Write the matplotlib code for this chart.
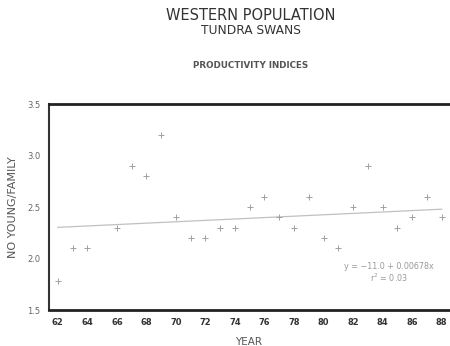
import matplotlib
matplotlib.use("Agg")
import matplotlib.pyplot as plt
import numpy as np

plt.rcParams['font.family'] = ['DejaVu Sans']

years = [62, 63, 64, 66, 67, 68, 69, 70, 71, 72, 73, 74, 75, 76, 77, 78, 79, 80, 81, 82, 83, 84, 85, 86, 87, 88]
young = [1.78, 2.1, 2.1, 2.3, 2.9, 2.8, 3.2, 2.4, 2.2, 2.2, 2.3, 2.3, 2.5, 2.6, 2.4, 2.3, 2.6, 2.2, 2.1, 2.5, 2.9, 2.5, 2.3, 2.4, 2.6, 2.4]
intercept = -11.0
slope = 0.00678
xticks = [62, 64, 66, 68, 70, 72, 74, 76, 78, 80, 82, 84, 86, 88]
yticks = [1.5, 2.0, 2.5, 3.0, 3.5]
ytick_labels = ["1.5", "2.0", "2.5", "3.0", "3.5"]

fig = plt.figure(figsize=(4.5, 3.46), dpi=100)
ax = fig.add_axes([49/450, 1-310/346, 400/450, 206/346])

ax.scatter(years, young, marker='+', s=20, color='#a0a0a0', linewidths=0.7, zorder=3)
lx = np.array([years[0], years[-1]])
ax.plot(lx, intercept + slope*(1900+lx), color='#c0c0c0', lw=0.9)

ax.set_xlim(61.4, 88.5)
ax.set_ylim(1.5, 3.5)
ax.set_xticks(xticks)
ax.set_xticklabels([str(t) for t in xticks])
ax.set_yticks(yticks)
ax.set_yticklabels(ytick_labels)
ax.tick_params(axis='both', length=0, labelsize=6, colors='#333333', pad=6)
for lab in ax.get_xticklabels():
    lab.set_fontweight('bold')
for lab in ax.get_yticklabels():
    lab.set_color('#666666')
for name in ['top', 'bottom']:
    ax.spines[name].set_linewidth(2.0)
    ax.spines[name].set_color('#222222')
ax.spines['left'].set_linewidth(1.5)
ax.spines['left'].set_color('#333333')
ax.spines['right'].set_visible(False)

ax.set_xlabel('YEAR', fontsize=7.5, color='#555555', labelpad=7)
ax.set_ylabel('NO YOUNG/FAMILY', fontsize=8, color='#555555', labelpad=7)

ax.text(0.85, 0.2, 'y = \u221211.0 + 0.00678x', transform=ax.transAxes, fontsize=5.8, color='#999999', ha='center')
ax.text(0.85, 0.135, 'r$^2$ = 0.03', transform=ax.transAxes, fontsize=5.8, color='#999999', ha='center')

cx = 251/450
fig.text(cx, 1-16/346, 'WESTERN POPULATION', ha='center', va='center', fontsize=10.5, color='#333333')
fig.text(cx, 1-31/346, 'TUNDRA SWANS', ha='center', va='center', fontsize=8.8, color='#333333')
fig.text(cx, 1-65/346, 'PRODUCTIVITY INDICES', ha='center', va='center', fontsize=6.3, color='#555555', fontweight='bold')

fig.savefig('out.png', dpi=100, facecolor='white')
